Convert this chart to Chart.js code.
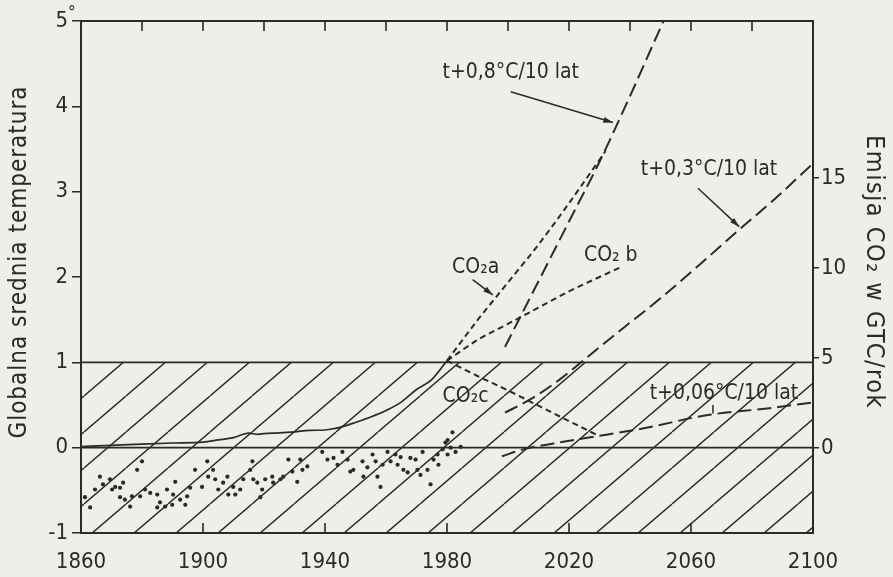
<!DOCTYPE html>
<html><head><meta charset="utf-8">
<script src="https://cdn.jsdelivr.net/npm/chart.js@4"></script>
<style>
html,body{margin:0;padding:0;background:#efeee9;}
canvas{display:block;}
</style></head><body>
<canvas id="c" width="893" height="577"></canvas>
<script>
// ---------- data ----------
const xTickLabels = [1860, 1900, 1940, 1980, 2020, 2060, 2100];
const xTopTickMarks = [1880, 1900, 1920, 1940, 1960, 1980, 2000, 2020, 2040, 2060, 2080];
const xBottomTickMarks = [1900, 1940, 1980, 2020, 2060];
const leftTicks = [-1, 0, 1, 2, 3, 4, 5];
const rightTicks = [0, 5, 10, 15];

// historical CO2 emission (right axis, GTC/rok)
const histYears = [1860,1870,1880,1890,1900,1905,1910,1913,1915,1918,1920,1925,1930,1935,1940,1943,1946,1950,1955,1960,1965,1970,1975,1980];
const histEmission = [0.08,0.15,0.22,0.28,0.33,0.45,0.58,0.75,0.83,0.76,0.8,0.84,0.9,0.98,1.0,1.08,1.2,1.42,1.72,2.08,2.55,3.25,3.8,4.85];

// emission scenarios (right axis)
const co2aYears = [1980,1990,2000,2010,2020,2032];
const co2aEmission = [4.85,7.1,9.2,11.3,13.6,16.5];
const co2bYears = [1980,1990,2000,2010,2020,2030,2037];
const co2bEmission = [4.85,6.0,6.9,7.8,8.7,9.5,10.05];
const co2cYears = [1980,1990,2000,2010,2020,2030];
const co2cEmission = [4.85,4.0,3.2,2.35,1.5,0.65];

// temperature scenarios (left axis, °C)
const t08Years = [1999,2005,2010,2020,2030,2040,2050,2053];
const t08Temp = [1.18,1.6,1.95,2.65,3.35,4.12,4.92,5.15];
const t03Years = [1999,2008,2017,2027,2037,2050,2063,2075,2087,2100];
const t03Temp = [0.41,0.58,0.8,1.09,1.38,1.75,2.15,2.53,2.9,3.33];
const t006Years = [1998,2005,2015,2025,2045,2065,2085,2100];
const t006Temp = [-0.1,-0.02,0.05,0.11,0.23,0.38,0.46,0.53];

// observed temperature anomalies (dots, left axis)
const dotYears = [1861.3,1863,1864.6,1866.2,1867.2,1869.5,1870.2,1871.2,1872.8,1873.8,1872.8,1874.4,1876.7,1876.1,1878.4,1880,1879.4,1881,1882.7,1885,1885.9,1885,1887.6,1888.2,1890.2,1890.9,1889.9,1892.5,1894.2,1894.8,1895.8,1897.4,1899.7,1901.4,1901.7,1903.3,1904,1905,1906.6,1908,1908.3,1909.9,1910.6,1912.2,1913.2,1915.5,1916.2,1916.5,1917.8,1919.4,1918.8,1920.4,1922.7,1923,1925.4,1926.3,1928,1929.3,1930.9,1931.9,1932.6,1934.2,1939.1,1940.8,1942.8,1944.1,1945.7,1947.4,1948.3,1949.3,1952.3,1952.6,1953.9,1955.6,1956.6,1957.2,1958.2,1958.9,1960.5,1961.5,1963.1,1963.8,1964.8,1965.7,1967.1,1968,1969.7,1970.3,1971.3,1972,1973.6,1974.6,1975.6,1976.9,1977.2,1978.6,1979.5,1980.2,1980.2,1981.2,1981.8,1982.8,1984.5];
const dotTemps = [-0.58,-0.70,-0.49,-0.34,-0.43,-0.37,-0.49,-0.46,-0.47,-0.41,-0.58,-0.61,-0.57,-0.69,-0.26,-0.16,-0.57,-0.49,-0.53,-0.55,-0.64,-0.70,-0.69,-0.49,-0.55,-0.40,-0.67,-0.61,-0.67,-0.57,-0.47,-0.26,-0.46,-0.16,-0.34,-0.26,-0.37,-0.49,-0.41,-0.34,-0.55,-0.46,-0.55,-0.49,-0.37,-0.26,-0.16,-0.37,-0.41,-0.49,-0.58,-0.37,-0.34,-0.41,-0.37,-0.34,-0.14,-0.28,-0.40,-0.14,-0.26,-0.22,-0.05,-0.14,-0.12,-0.20,-0.05,-0.14,-0.28,-0.26,-0.16,-0.34,-0.23,-0.08,-0.16,-0.34,-0.46,-0.20,-0.05,-0.16,-0.08,-0.20,-0.11,-0.26,-0.29,-0.12,-0.14,-0.26,-0.32,-0.05,-0.26,-0.43,-0.14,-0.08,-0.20,-0.02,0.06,0.09,-0.08,0.0,0.18,-0.05,0.01];

const bandTop = 1;   // upper edge of hatched band (°C)
const zeroLine = 0;

// annotation texts (data coordinates on the left axis)
const notes = [
  {text: 't+0,8°C/10 lat', x: 2000.9, y: 4.40},
  {text: 't+0,3°C/10 lat', x: 2065.9, y: 3.26},
  {text: 'CO₂a', x: 1989.4, y: 2.11},
  {text: 'CO₂ b', x: 2033.7, y: 2.25},
  {text: 'CO₂c', x: 1986.1, y: 0.60},
  {text: 't+0,06°C/10 lat', x: 2070.8, y: 0.64}
];
const arrows = [
  {x1: 2000.9, y1: 4.17, x2: 2034.4, y2: 3.81, head: true},
  {x1: 2062.3, y1: 3.04, x2: 2075.8, y2: 2.59, head: true},
  {x1: 1988.4, y1: 1.97, x2: 1995.0, y2: 1.79, head: true},
  {x1: 2067.2, y1: 0.50, x2: 2067.2, y2: 0.40, head: false}
];
const leftTitle = 'Globalna srednia temperatura';
const rightTitle = 'Emisja CO₂ w GTC/rok';

// ---------- styling ----------
const INK = '#2a2a2a';
const FONT = '"DejaVu Sans Condensed", "Liberation Sans Narrow", "DejaVu Sans", sans-serif';

const canvas = document.getElementById('c');
const ctx0 = canvas.getContext('2d');
function hatchPattern() {
  const w = 42, h = 36;
  const t = document.createElement('canvas');
  t.width = w; t.height = h;
  const g = t.getContext('2d');
  g.strokeStyle = INK; g.lineWidth = 1.4;
  g.beginPath();
  for (const o of [-w, 0, w]) { g.moveTo(o, h); g.lineTo(o + w, 0); }
  g.stroke();
  return ctx0.createPattern(t, 'repeat');
}

const pts = (xs, ys) => xs.map((v, i) => ({x: v, y: ys[i]}));
const base = {pointRadius: 0, borderColor: INK, fill: false, clip: 0, cubicInterpolationMode: 'monotone'};
const fineDash = [6, 4];
const longDash = [14, 6];

const framePlugin = {
  id: 'frame',
  afterDraw(chart) {
    const {ctx, chartArea: a, scales} = chart;
    const x = scales.x, y = scales.y;
    ctx.save();
    ctx.strokeStyle = INK; ctx.fillStyle = INK;
    ctx.lineWidth = 2;
    ctx.strokeRect(a.left, a.top, a.right - a.left, a.bottom - a.top);
    ctx.lineWidth = 1.6;
    ctx.beginPath();
    for (const yr of xTopTickMarks) { const p = x.getPixelForValue(yr); ctx.moveTo(p, a.top); ctx.lineTo(p, a.top + 10); }
    for (const yr of xBottomTickMarks) { const p = x.getPixelForValue(yr); ctx.moveTo(p, a.bottom); ctx.lineTo(p, a.bottom - 10); }
    ctx.stroke();
    // degree sign on top left label
    ctx.font = '17px ' + FONT; ctx.textAlign = 'left'; ctx.textBaseline = 'middle';
    ctx.fillText('°', a.left - 13, y.getPixelForValue(5) - 7);
    // annotation texts
    ctx.font = '21px ' + FONT; ctx.textAlign = 'center';
    for (const n of notes) ctx.fillText(n.text, x.getPixelForValue(n.x), y.getPixelForValue(n.y));
    // arrows
    ctx.lineWidth = 1.5;
    for (const r of arrows) {
      const x1 = x.getPixelForValue(r.x1), y1 = y.getPixelForValue(r.y1);
      const x2 = x.getPixelForValue(r.x2), y2 = y.getPixelForValue(r.y2);
      ctx.beginPath(); ctx.moveTo(x1, y1); ctx.lineTo(x2, y2); ctx.stroke();
      if (r.head) {
        const ang = Math.atan2(y2 - y1, x2 - x1), L = 10, W = 0.3;
        ctx.beginPath(); ctx.moveTo(x2, y2);
        ctx.lineTo(x2 - L * Math.cos(ang - W), y2 - L * Math.sin(ang - W));
        ctx.lineTo(x2 - L * Math.cos(ang + W), y2 - L * Math.sin(ang + W));
        ctx.closePath(); ctx.fill();
      }
    }
    // axis titles
    ctx.textAlign = 'center'; ctx.textBaseline = 'middle';
    ctx.save();
    ctx.font = '24px ' + FONT;
    ctx.letterSpacing = '1px';
    ctx.translate(20, (a.top + a.bottom) / 2 - 15);
    ctx.rotate(-Math.PI / 2);
    ctx.fillText(leftTitle, 0, 0);
    ctx.restore();
    ctx.save();
    ctx.font = '25px ' + FONT;
    ctx.letterSpacing = '1.5px';
    ctx.translate(chart.width - 20, (a.top + a.bottom) / 2 - 5);
    ctx.rotate(Math.PI / 2);
    ctx.fillText(rightTitle, 0, 0);
    ctx.restore();
    ctx.restore();
  }
};

const tickFont = {family: FONT, size: 22};

new Chart(canvas, {
  type: 'line',
  data: {
    datasets: [
      {...base, data: pts(dotYears, dotTemps), yAxisID: 'y', showLine: false, pointRadius: 2.1, pointBackgroundColor: INK, pointBorderWidth: 0, order: 0},
      {...base, data: pts(histYears, histEmission), yAxisID: 'y2', borderWidth: 1.7, order: 1},
      {...base, data: pts(co2aYears, co2aEmission), yAxisID: 'y2', borderWidth: 2, borderDash: fineDash, order: 1},
      {...base, data: pts(co2bYears, co2bEmission), yAxisID: 'y2', borderWidth: 2, borderDash: fineDash, order: 1},
      {...base, data: pts(co2cYears, co2cEmission), yAxisID: 'y2', borderWidth: 2, borderDash: fineDash, order: 1},
      {...base, data: pts(t08Years, t08Temp), yAxisID: 'y', borderWidth: 2, borderDash: longDash, order: 1},
      {...base, data: pts(t03Years, t03Temp), yAxisID: 'y', borderWidth: 2, borderDash: longDash, order: 1},
      {...base, data: pts(t006Years, t006Temp), yAxisID: 'y', borderWidth: 2, borderDash: longDash, order: 1},
      {...base, data: pts([1860, 2100], [zeroLine, zeroLine]), yAxisID: 'y', borderWidth: 1.6, order: 2},
      {...base, data: pts([1860, 2100], [bandTop, bandTop]), yAxisID: 'y', borderWidth: 1.6, fill: 'start', backgroundColor: hatchPattern(), order: 10}
    ]
  },
  options: {
    responsive: false,
    animation: false,
    devicePixelRatio: 1,
    layout: {padding: {top: 21, left: 0, right: 0, bottom: 0}},
    plugins: {legend: {display: false}, tooltip: {enabled: false}},
    scales: {
      x: {
        type: 'linear', min: 1860, max: 2100,
        afterBuildTicks: s => { s.ticks = xTickLabels.map(v => ({value: v})); },
        afterFit: s => { s.height = 44; },
        grid: {drawOnChartArea: false, drawTicks: false},
        border: {display: false},
        ticks: {font: tickFont, color: INK, padding: 16, maxRotation: 0, autoSkip: false, callback: v => String(v)}
      },
      y: {
        position: 'left', min: -1, max: 5,
        afterBuildTicks: s => { s.ticks = leftTicks.map(v => ({value: v})); },
        afterFit: s => { s.width = 81; },
        grid: {drawOnChartArea: false, tickLength: 9, color: INK, lineWidth: 1.5},
        border: {display: false},
        ticks: {font: tickFont, color: INK, padding: 4, callback: v => String(v)}
      },
      y2: {
        position: 'right', min: -4.72, max: 23.72,
        afterBuildTicks: s => { s.ticks = rightTicks.map(v => ({value: v})); },
        afterFit: s => { s.width = 80; },
        grid: {drawOnChartArea: false, tickLength: 6, color: INK, lineWidth: 1.5},
        border: {display: false},
        ticks: {font: tickFont, color: INK, padding: 2, callback: v => String(v)}
      }
    }
  },
  plugins: [framePlugin]
});
</script>
</body></html>
